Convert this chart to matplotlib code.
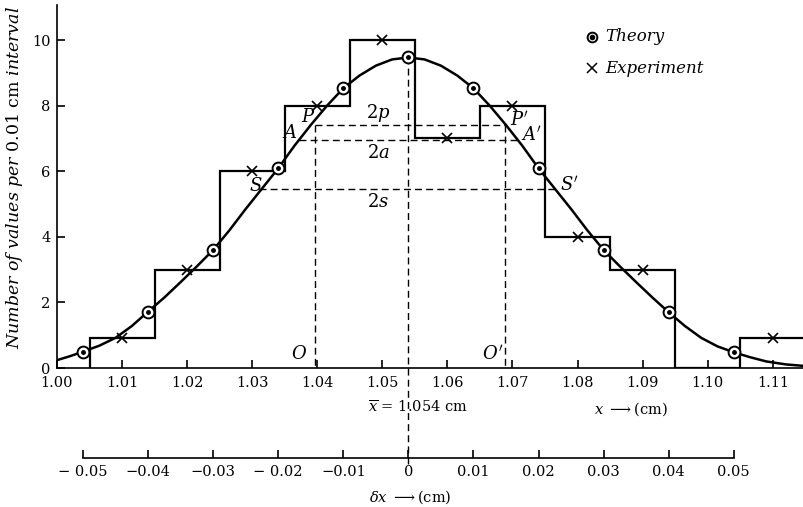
import matplotlib
matplotlib.use('Agg')
import matplotlib.pyplot as plt
import numpy as np

plt.rcParams['font.family'] = 'DejaVu Serif'
plt.rcParams['mathtext.fontset'] = 'dejavuserif'

x_mean = 1.054

# experiment: counts per 0.01 cm bin
bin_edges = [1.005, 1.015, 1.025, 1.035, 1.045, 1.055, 1.065, 1.075, 1.085, 1.095, 1.105, 1.115]
exp_counts = [0.9, 3, 6, 8, 10, 7, 8, 4, 3, 0, 0.9]
exp_x = [1.01, 1.02, 1.03, 1.04, 1.05, 1.06, 1.07, 1.08, 1.09, 1.10, 1.11]

# theory points
theory_x = [1.004, 1.014, 1.024, 1.034, 1.044, 1.054, 1.064, 1.074, 1.084, 1.094, 1.104]
theory_y = [0.5, 1.72, 3.6, 6.09, 8.53, 9.47, 8.53, 6.09, 3.6, 1.7, 0.48]

# theory curve
curve_x = [1.000, 1.002, 1.004, 1.0065, 1.009, 1.0115, 1.014, 1.0165, 1.019, 1.0215,
           1.024, 1.0265, 1.029, 1.0315, 1.034, 1.0365, 1.039, 1.0415, 1.044, 1.0465,
           1.049, 1.0515, 1.054, 1.0565, 1.059, 1.0615, 1.064, 1.0665, 1.069, 1.0715,
           1.074, 1.0765, 1.079, 1.0815, 1.084, 1.0865, 1.089, 1.0915, 1.094, 1.0965,
           1.099, 1.1015, 1.104, 1.1065, 1.109, 1.112, 1.115]
curve_y = [0.24, 0.36, 0.5, 0.68, 0.92, 1.28, 1.72, 2.15, 2.62, 3.1,
           3.6, 4.2, 4.85, 5.47, 6.09, 6.78, 7.41, 8.0, 8.53, 8.92,
           9.22, 9.41, 9.47, 9.41, 9.22, 8.92, 8.53, 8.0, 7.41, 6.78,
           6.09, 5.47, 4.85, 4.2, 3.6, 3.1, 2.62, 2.15, 1.7, 1.28,
           0.92, 0.66, 0.48, 0.33, 0.2, 0.11, 0.06]

# P, A, S levels and their left/right x
p_level, p_x = 7.41, [1.0397, 1.0689]
a_level, a_x = 6.95, [1.0372, 1.0712]
s_level, s_x = 5.45, [1.031, 1.0772]

x_ticks = [1.00, 1.01, 1.02, 1.03, 1.04, 1.05, 1.06, 1.07, 1.08, 1.09, 1.10, 1.11]
y_ticks = [0, 2, 4, 6, 8, 10]
dx_ticks = [-0.05, -0.04, -0.03, -0.02, -0.01, 0, 0.01, 0.02, 0.03, 0.04, 0.05]
dx_labels = ['\u2212 0.05', '\u22120.04', '\u22120.03', '\u2212 0.02', '\u22120.01', '0',
             '0.01', '0.02', '0.03', '0.04', '0.05']

fig = plt.figure(figsize=(8.04, 5.07), dpi=100)
ax = fig.add_axes([57/804, 139/507, 747/804, 363/507])
ax.set_xlim(1.0, 1.1148)
ax.set_ylim(0, 11.07)

dash = dict(color='black', lw=1.0, dashes=(5, 3))

# constructions
ax.plot([x_mean, x_mean], [theory_y[5], -2.95], clip_on=False, **dash)
ax.plot([p_x[0], p_x[0]], [p_level, 0], **dash)
ax.plot([p_x[1], p_x[1]], [p_level, 0], **dash)
ax.plot(p_x, [p_level, p_level], **dash)
ax.plot(a_x, [a_level, a_level], **dash)
ax.plot(s_x, [s_level, s_level], **dash)

ax.stairs(exp_counts, bin_edges, baseline=0, color='black', lw=1.6)
ax.plot(curve_x, curve_y, color='black', lw=1.8)

ex = np.array(exp_x)
ec = np.array(exp_counts)
ax.plot(ex[ec > 0], ec[ec > 0], 'x', color='black', ms=6.5, mew=1.2)
ax.plot(theory_x, theory_y, 'o', ms=8.5, mfc='white', mec='black', mew=1.4, zorder=5)
ax.plot(theory_x, theory_y, 'o', ms=2.5, color='black', zorder=6)

lab = dict(fontsize=13, ha='center', va='center')
ax.text(1.0386, 7.65, '$P$', **lab)
ax.text(1.0357, 7.16, '$A$', **lab)
ax.text(1.0305, 5.55, '$S$', **lab)
ax.text(1.0711, 7.56, "$P'$", **lab)
ax.text(1.0730, 7.10, "$A'$", **lab)
ax.text(1.0788, 5.58, "$S'$", **lab)
ax.text(1.0494, 7.77, '$2p$', **lab)
ax.text(1.0494, 6.55, '$2a$', **lab)
ax.text(1.0494, 5.06, '$2s$', **lab)
ax.text(1.0372, 0.42, '$O$', **lab)
ax.text(1.0669, 0.42, "$O'$", **lab)

# legend
ax.plot([0.716], [0.913], 'o', ms=7, mfc='white', mec='black', mew=1.4, transform=ax.transAxes, clip_on=False)
ax.plot([0.716], [0.913], 'o', ms=3, color='black', transform=ax.transAxes, clip_on=False)
ax.plot([0.716], [0.826], 'x', ms=6.5, mew=1.1, color='black', transform=ax.transAxes, clip_on=False)
ax.text(0.734, 0.913, 'Theory', style='italic', fontsize=12, va='center', transform=ax.transAxes)
ax.text(0.734, 0.826, 'Experiment', style='italic', fontsize=12, va='center', transform=ax.transAxes)

ax.set_xticks(x_ticks)
ax.set_xticklabels(['%.2f' % v for v in x_ticks])
ax.set_yticks(y_ticks)
ax.tick_params(direction='in', length=6, width=1.2, labelsize=10.5)
ax.tick_params(axis='x', pad=6)
ax.tick_params(axis='y', pad=4.5)
ax.spines['top'].set_visible(False)
ax.spines['right'].set_visible(False)
ax.spines['left'].set_linewidth(1.2)
ax.spines['bottom'].set_linewidth(1.2)

fig.text(15/804, 1 - 178/507,
         r'$\mathit{Number\ of\ values\ per}$ 0.01 cm $\mathit{interval}$',
         rotation=90, ha='center', va='center', fontsize=12.5)

ax.text(1.0554, -1.22, r'$\overline{x}$ = 1.054 cm', ha='center', va='center', fontsize=10.5)
ax.text(1.0882, -1.25, r'$x$ $\longrightarrow$(cm)', ha='center', va='center', fontsize=10.5)

# delta x scale
ax2 = fig.add_axes([57/804, 49/507, 747/804, 0.01])
ax2.set_xlim(ax.get_xlim())
for s in ['top', 'right', 'left']:
    ax2.spines[s].set_visible(False)
ax2.spines['bottom'].set_bounds(x_mean + dx_ticks[0], x_mean + dx_ticks[-1])
ax2.spines['bottom'].set_linewidth(1.2)
ax2.set_yticks([])
ax2.patch.set_visible(False)
ax2.set_xticks([x_mean + d for d in dx_ticks])
ax2.set_xticklabels(dx_labels)
ax2.tick_params(direction='in', length=6, width=1.2, labelsize=10.5, pad=5)

fig.text(410/804, 1 - 497/507, r'$\delta x$ $\longrightarrow$(cm)', ha='center', va='center', fontsize=10.5)

fig.savefig('out.png', dpi=100)
